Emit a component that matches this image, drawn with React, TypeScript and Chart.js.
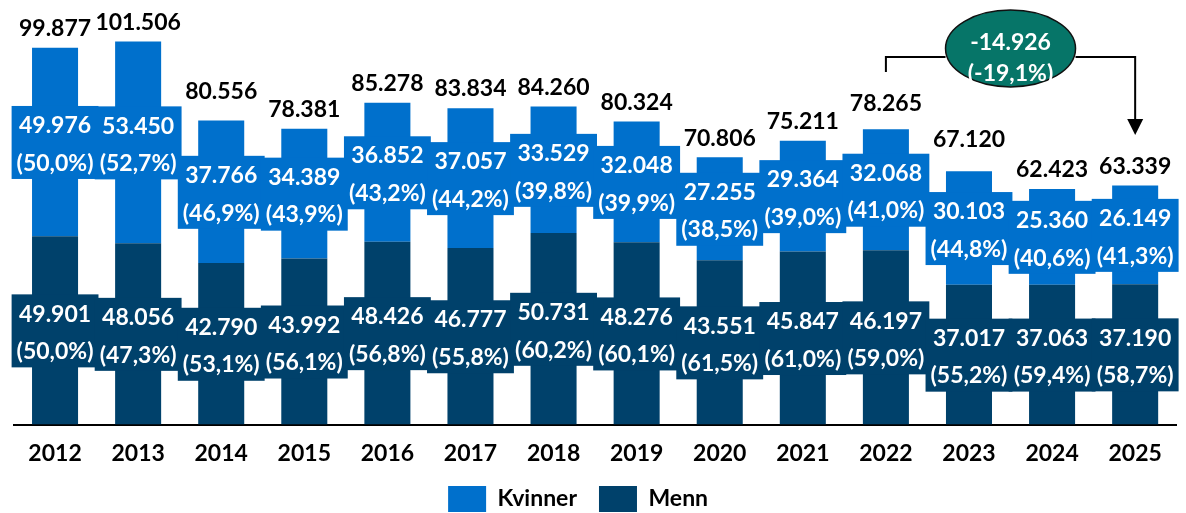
import { useEffect, useRef } from 'react';
import { Chart, registerables } from 'chart.js';

Chart.register(...registerables);

// ---- data ----
const years = ['2012', '2013', '2014', '2015', '2016', '2017', '2018', '2019', '2020', '2021', '2022', '2023', '2024', '2025'];
const kvinner = [49976, 53450, 37766, 34389, 36852, 37057, 33529, 32048, 27255, 29364, 32068, 30103, 25360, 26149];
const menn = [49901, 48056, 42790, 43992, 48426, 46777, 50731, 48276, 43551, 45847, 46197, 37017, 37063, 37190];
const seriesNames = ['Kvinner', 'Menn'];
const changeFrom = '2022';
const changeTo = '2025';

// ---- style ----
const totalLabelExtraLift = [0, 0, 10, 0, 0, 0, 0, 0, 0, 0, 6, 12, 0, 0];
const FONT = 'Lato, "Open Sans", sans-serif';
const COL_K = '#0070CC';
const COL_M = '#00416B';
const COL_OVAL = '#067568';
const CAP = 8.2;
const LEGEND_SHIFT = -17;

const fmtInt = (v: number) => Math.round(v).toString().replace(/\B(?=(\d{3})+(?!\d))/g, '.');
const fmtPct = (v: number) => v.toFixed(1).replace('.', ',') + '%';

const labelsPlugin = {
  id: 'barLabels',
  afterLayout(chart: any) {
    const l = chart.legend;
    if (l) {
      l.left += LEGEND_SHIFT;
      l.right += LEGEND_SHIFT;
    }
  },
  afterDatasetsDraw(chart: any) {
    const { ctx, scales, chartArea } = chart;
    const x = scales.x;
    const y = scales.y;
    const totals = years.map((_, i) => kvinner[i] + menn[i]);
    ctx.save();
    ctx.font = `bold 23px ${FONT}`;
    ctx.textAlign = 'center';
    ctx.textBaseline = 'alphabetic';

    const series = [
      { data: menn, color: COL_M, di: 0 },
      { data: kvinner, color: COL_K, di: 1 },
    ];
    series.forEach((s) => {
      const meta = chart.getDatasetMeta(s.di);
      meta.data.forEach((bar: any, i: number) => {
        const p = bar.getProps(['x', 'y', 'base'], true);
        const cy = (p.y + p.base) / 2;
        const l1 = fmtInt(s.data[i]);
        const l2 = '(' + fmtPct((100 * s.data[i]) / totals[i]) + ')';
        const w = Math.max(ctx.measureText(l1).width, ctx.measureText(l2).width) + 10;
        ctx.fillStyle = s.color;
        ctx.fillRect(p.x - w / 2, cy - 36, w, 73);
        ctx.fillStyle = '#ffffff';
        ctx.fillText(l1, p.x, cy - 17 + CAP);
        ctx.fillText(l2, p.x, cy + 20.5 + CAP);
      });
    });

    ctx.fillStyle = '#000000';
    totals.forEach((t, i) => {
      const px = x.getPixelForValue(i);
      const py = y.getPixelForValue(t);
      ctx.fillText(fmtInt(t), px, py - 20 - totalLabelExtraLift[i] + CAP);
    });

    // change annotation
    const iA = years.indexOf(changeFrom);
    const iB = years.indexOf(changeTo);
    const diff = totals[iB] - totals[iA];
    const pct = (100 * diff) / totals[iA];
    const xa = x.getPixelForValue(iA);
    const xb = x.getPixelForValue(iB);
    const cx = (xa + xb) / 2;
    const top = chartArea.top;
    const rx = 65;
    const ry = 38.5;
    const ecy = top + 39;
    const by = top + 47.5;
    ctx.strokeStyle = '#000000';
    ctx.lineWidth = 2;
    ctx.beginPath();
    ctx.moveTo(xa, top + 62.5);
    ctx.lineTo(xa, by);
    ctx.lineTo(cx - rx, by);
    ctx.stroke();
    ctx.beginPath();
    ctx.moveTo(cx + rx, by);
    ctx.lineTo(xb, by);
    ctx.lineTo(xb, top + 111);
    ctx.stroke();
    ctx.fillStyle = '#000000';
    ctx.beginPath();
    ctx.moveTo(xb - 8, top + 109.5);
    ctx.lineTo(xb + 8, top + 109.5);
    ctx.lineTo(xb, top + 125.5);
    ctx.closePath();
    ctx.fill();

    ctx.beginPath();
    ctx.ellipse(cx, ecy, rx, ry, 0, 0, Math.PI * 2);
    ctx.fillStyle = COL_OVAL;
    ctx.fill();
    ctx.lineWidth = 1.5;
    ctx.strokeStyle = '#111111';
    ctx.stroke();
    ctx.fillStyle = '#ffffff';
    ctx.fillText(fmtInt(diff), cx, top + 32.5 + CAP);
    ctx.fillText('(' + fmtPct(pct) + ')', cx, top + 63 + CAP);
    ctx.restore();
  },
};

export default function App() {
  const ref = useRef<HTMLCanvasElement>(null);
  useEffect(() => {
    const chart = new Chart(ref.current as HTMLCanvasElement, {
      type: 'bar',
      data: {
        labels: years,
        datasets: [
          { label: seriesNames[1], data: menn, backgroundColor: COL_M, borderWidth: 0 },
          { label: seriesNames[0], data: kvinner, backgroundColor: COL_K, borderWidth: 0 },
        ],
      },
      options: {
        responsive: false,
        animation: false,
        devicePixelRatio: 1,
        layout: { padding: { left: 13.5, right: 9.3, top: 9.5, bottom: 0 } },
        datasets: { bar: { categoryPercentage: 1, barPercentage: 0.554 } },
        scales: {
          x: {
            stacked: true,
            offset: true,
            grid: { display: false, drawTicks: false },
            border: { display: true, color: '#000000', width: 2 },
            ticks: { font: { family: FONT, size: 23, weight: 'bold' }, color: '#000000', padding: 15 },
            afterFit: (s: any) => {
              s.height = 39.5;
            },
          },
          y: { stacked: true, display: false, min: 0, max: 110000 },
        },
        plugins: {
          tooltip: { enabled: false },
          legend: {
            position: 'bottom',
            reverse: true,
            labels: {
              font: { family: FONT, size: 23, weight: 'bold' },
              color: '#000000',
              boxWidth: 38,
              boxHeight: 26,
              padding: 22,
            },
          },
        },
      } as any,
      plugins: [labelsPlugin],
    });
    return () => chart.destroy();
  }, []);
  return (
    <div style={{ position: 'fixed', left: 0, top: 0, width: 1186, height: 522, background: '#fff' }}>
      <canvas ref={ref} width={1186} height={522} style={{ display: 'block', width: 1186, height: 522 }} />
    </div>
  );
}
